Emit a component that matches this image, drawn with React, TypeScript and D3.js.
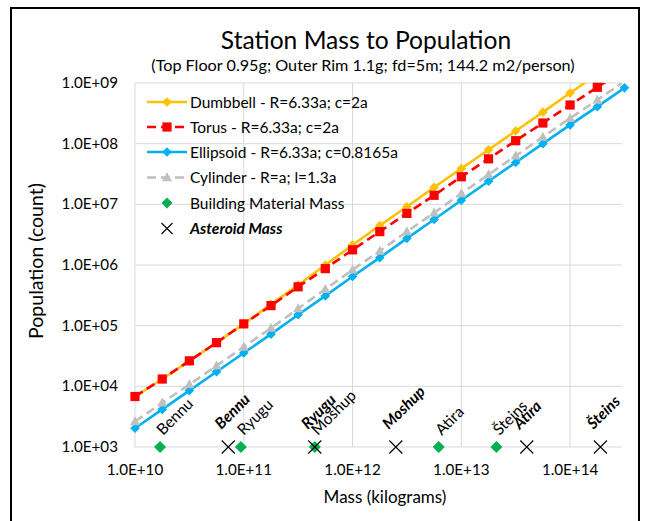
import React from "react";
import * as d3 from "d3";

// Station mass (kg) sampled at quarter-decade steps
const massKg = [
  1.0e10, 1.78e10, 3.16e10, 5.62e10,
  1.0e11, 1.78e11, 3.16e11, 5.62e11,
  1.0e12, 1.78e12, 3.16e12, 5.62e12,
  1.0e13, 1.78e13, 3.16e13, 5.62e13,
  1.0e14, 1.78e14, 3.16e14,
];

// Population (count) per station geometry
const dumbbellPop = [
  6800, 13200, 26300, 52500, 107000, 224000, 468000, 1.0e6, 2.14e6, 4.47e6,
  9.12e6, 1.91e7, 3.89e7, 7.94e7, 1.62e8, 3.31e8, 6.84e8, 1.41e9,
];
const torusPop = [
  6800, 13200, 26300, 52500, 107000, 214000, 437000, 871000, 1.78e6, 3.55e6,
  7.08e6, 1.41e7, 2.85e7, 5.62e7, 1.12e8, 2.19e8, 4.34e8, 8.5e8, 1.66e9,
];
const ellipsoidPop = [
  2040, 4170, 8510, 17400, 35500, 72400, 151000, 309000, 646000, 1.32e6,
  2.75e6, 5.62e6, 1.17e7, 2.4e7, 4.9e7, 1.0e8, 2.04e8, 4.07e8, 8.32e8,
];
const cylinderPop = [
  2630, 5370, 10700, 21900, 44700, 91200, 191000, 398000, 832000, 1.7e6,
  3.55e6, 7.24e6, 1.51e7, 3.09e7, 6.31e7, 1.29e8, 2.63e8, 5.25e8, 1.07e9,
];

// Asteroids: building material mass vs. total asteroid mass (kg)
const asteroidNames = ["Bennu", "Ryugu", "Moshup", "Atira", "Šteins"];
const buildingMassKg = [1.7e10, 9.4e10, 4.5e11, 6.2e12, 2.1e13];
const asteroidMassKg = [7.2e10, 4.5e11, 2.5e12, 4.0e13, 1.9e14];

const xTicks = [1e10, 1e11, 1e12, 1e13, 1e14];
const yTicks = [1e3, 1e4, 1e5, 1e6, 1e7, 1e8, 1e9];

const seriesNames = [
  "Dumbbell - R=6.33a; c=2a",
  "Torus - R=6.33a; c=2a",
  "Ellipsoid - R=6.33a; c=0.8165a",
  "Cylinder - R=a; l=1.3a",
];

const W = 649;
const H = 521;
const plot = { left: 135, right: 622, top: 83, bottom: 447 };
const FONT = "Lato, 'Open Sans', sans-serif";
const GRID = "#d9d9d9";

const x = d3.scaleLog().domain([1e10, 3e14]).range([plot.left, plot.right]);
const y = d3.scaleLog().domain([1e3, 1e9]).range([plot.bottom, plot.top]);

type Marker = "diamond" | "square" | "triangle";

interface SeriesDef {
  name: string;
  values: number[];
  color: string;
  dash?: string;
  marker: Marker;
  size: number;
}

const series: SeriesDef[] = [
  { name: seriesNames[0], values: dumbbellPop, color: "#ffc000", marker: "diamond", size: 4.8 },
  { name: seriesNames[1], values: torusPop, color: "#ff0000", dash: "9,5", marker: "square", size: 4.6 },
  { name: seriesNames[2], values: ellipsoidPop, color: "#00b0f0", marker: "diamond", size: 4.8 },
  { name: seriesNames[3], values: cylinderPop, color: "#bfbfbf", dash: "9,5", marker: "triangle", size: 5 },
];

function markerPath(kind: Marker, s: number): string {
  if (kind === "diamond") return `M0,${-s}L${s},0L0,${s}L${-s},0Z`;
  if (kind === "square") return `M${-s},${-s}H${s}V${s}H${-s}Z`;
  return `M0,${-s * 1.05}L${s},${s * 0.75}L${-s},${s * 0.75}Z`;
}

function xMark(s: number): string {
  return `M${-s},${-s}L${s},${s}M${-s},${s}L${s},${-s}`;
}

const expLabel = (t: number) => "1.0E+" + String(Math.round(Math.log10(t))).padStart(2, "0");

export default function App() {
  const line = d3
    .line<[number, number]>()
    .x((d) => x(d[0]))
    .y((d) => y(d[1]));

  const legendRows = [102, 127, 152, 177.5, 203, 228.5];
  const baseY = y(1e3);

  return (
    <svg
      width={W}
      height={H}
      style={{ position: "absolute", left: 0, top: 0, background: "#fff" }}
      fontFamily={FONT}
    >
      <defs>
        <clipPath id="plotClip">
          <rect x={plot.left} y={plot.top} width={plot.right - plot.left} height={plot.bottom - plot.top} />
        </clipPath>
      </defs>
      <rect x={0} y={0} width={W} height={H} fill="#fff" />

      {/* chart frame */}
      <path d={`M11,${H + 5}V8H639V${H + 5}`} fill="none" stroke="#000" strokeWidth={2} />

      {/* titles */}
      <text x={366} y={49} textAnchor="middle" fontSize={24.6} fill="#000">
        Station Mass to Population
      </text>
      <text x={363} y={71} textAnchor="middle" fontSize={16.2} fill="#000">
        (Top Floor 0.95g; Outer Rim 1.1g; fd=5m; 144.2 m2/person)
      </text>

      {/* gridlines */}
      {yTicks.map((t) => (
        <line key={`gy${t}`} x1={plot.left} x2={plot.right} y1={y(t)} y2={y(t)} stroke={GRID} strokeWidth={1} />
      ))}
      {xTicks.map((t) => (
        <line key={`gx${t}`} x1={x(t)} x2={x(t)} y1={plot.top} y2={plot.bottom} stroke={GRID} strokeWidth={1} />
      ))}

      {/* tick labels */}
      {yTicks.map((t) => (
        <text key={`ty${t}`} x={118} y={y(t) + 5} textAnchor="end" fontSize={15.2} fill="#000">
          {expLabel(t)}
        </text>
      ))}
      {xTicks.map((t) => (
        <text key={`tx${t}`} x={x(t)} y={475} textAnchor="middle" fontSize={15.2} fill="#000">
          {expLabel(t)}
        </text>
      ))}

      {/* axis titles */}
      <g transform="translate(43,261) rotate(-90)">
        <text textAnchor="middle" fontSize={19.5} fill="#000">
          Population (count)
        </text>
      </g>
      <text x={385} y={503} textAnchor="middle" fontSize={17} fill="#000">
        Mass (kilograms)
      </text>

      {/* series lines */}
      <g clipPath="url(#plotClip)">
        {series.map((s) => (
          <path
            key={s.name}
            d={line(s.values.map((v, i) => [massKg[i], v] as [number, number])) || ""}
            fill="none"
            stroke={s.color}
            strokeWidth={2.6}
            strokeDasharray={s.dash}
          />
        ))}
      </g>
      {/* series markers */}
      {series.map((s) => (
        <g key={`m${s.name}`} fill={s.color}>
          {s.values.map((v, i) =>
            v <= 1e9 ? (
              <path key={i} transform={`translate(${x(massKg[i])},${y(v)})`} d={markerPath(s.marker, s.size)} />
            ) : null
          )}
        </g>
      ))}

      {/* building material and asteroid masses along the base */}
      {buildingMassKg.map((m, i) => (
        <path
          key={`b${i}`}
          transform={`translate(${x(m)},${baseY})`}
          d={markerPath("diamond", 6)}
          fill="#00b050"
        />
      ))}
      {asteroidMassKg.map((m, i) => (
        <path
          key={`a${i}`}
          transform={`translate(${x(m)},${baseY})`}
          d={xMark(6.5)}
          stroke="#000"
          strokeWidth={1.1}
          fill="none"
        />
      ))}
      {buildingMassKg.map((m, i) => (
        <g key={`bl${i}`} transform={`translate(${x(m) + 3},${baseY - 11}) rotate(-45)`}>
          <text x={0} y={0} fontSize={15.5} fill="#000">
            {asteroidNames[i]}
          </text>
        </g>
      ))}
      {asteroidMassKg.map((m, i) => (
        <g key={`al${i}`} transform={`translate(${x(m) - 7},${baseY - 17}) rotate(-45)`}>
          <text x={0} y={0} fontSize={15.5} fontWeight="bold" fontStyle="italic" fill="#000">
            {asteroidNames[i]}
          </text>
        </g>
      ))}

      {/* legend */}
      <g>
        {series.map((s, i) => (
          <g key={`lg${s.name}`} transform={`translate(0,${legendRows[i]})`}>
            <line x1={147} x2={187} y1={0} y2={0} stroke={s.color} strokeWidth={2.6} strokeDasharray={s.dash} />
            <path transform="translate(167,0)" d={markerPath(s.marker, s.size)} fill={s.color} />
            <text x={190} y={5.5} fontSize={15.5} fill="#000">
              {s.name}
            </text>
          </g>
        ))}
        <g transform={`translate(0,${legendRows[4]})`}>
          <path transform="translate(167,0)" d={markerPath("diamond", 5.5)} fill="#00b050" />
          <text x={190} y={5.5} fontSize={15.5} fill="#000">
            Building Material Mass
          </text>
        </g>
        <g transform={`translate(0,${legendRows[5]})`}>
          <path transform="translate(167,0)" d={xMark(5.5)} stroke="#000" strokeWidth={1.1} fill="none" />
          <text x={190} y={5.5} fontSize={15.5} fontWeight="bold" fontStyle="italic" fill="#000">
            Asteroid Mass
          </text>
        </g>
      </g>
    </svg>
  );
}
